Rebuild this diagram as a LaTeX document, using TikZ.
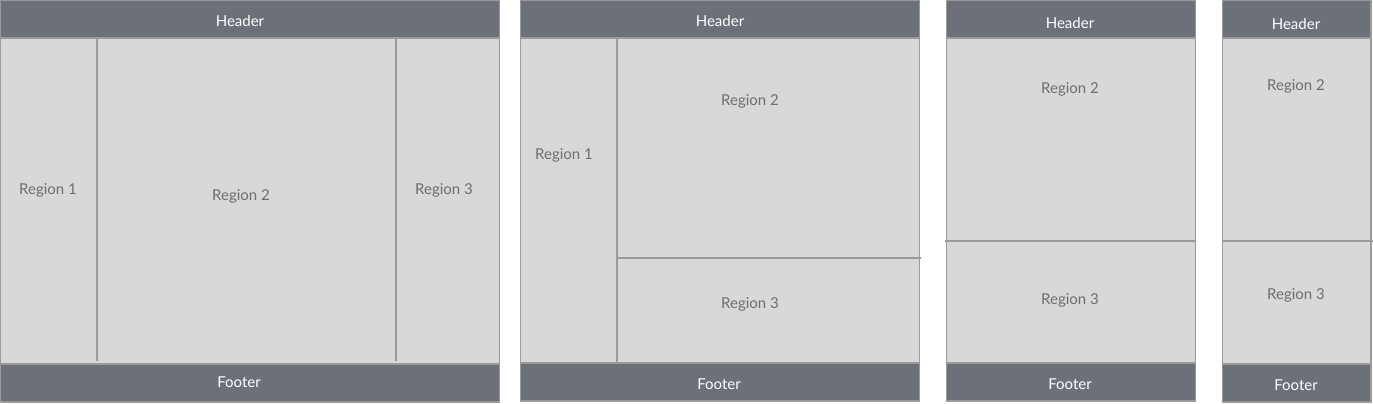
\documentclass[tikz,border=0pt]{standalone}
\usepackage{fontspec}
\setmainfont{Lato}
\usepackage{tikz}
\usetikzlibrary{positioning}
\definecolor{barfill}{HTML}{6C7078}
\definecolor{regfill}{HTML}{D8D8D8}
\definecolor{edgegray}{HTML}{9A9A9A}
\definecolor{regtext}{HTML}{6E6E6E}
\tikzset{
  bar/.style={fill=barfill,draw=edgegray,line width=1pt},
  sep/.style={draw=edgegray,line width=0.9pt},
  bartext/.style={text=white,font=\fontsize{11.25}{13}\selectfont,inner sep=0pt,yshift=-1pt},
  lbl/.style={text=regtext,font=\fontsize{11.25}{13}\selectfont,inner sep=0pt,yshift=-1pt}
}
% #1 name, #2 left, #3 right, #4 footer top, #5 bottom
\newcommand{\screen}[5]{%
  \fill[regfill] (#2,38) rectangle (#3,#4);
  \draw[bar] (#2,0.5) rectangle (#3,38);
  \draw[bar] (#2,#4) rectangle (#3,#5);
  \draw[edgegray,line width=1pt] (#2,0.5) rectangle (#3,#5);
  \coordinate (#1tl) at (#2,0.5);
  \coordinate (#1br) at (#3,#5);}

\begin{document}
\begin{tikzpicture}[x=0.75pt,y=-0.75pt]
\useasboundingbox (0,0) rectangle (1373,403);
% three columns
\screen{a}{0.5}{499.5}{364}{402}
\draw[sep] (97,38)--(97,361);
\draw[sep] (396,38)--(396,361);
\node[bartext] (ah) at (240,20) {Header};
\node[bartext] (af) at (239,381) {Footer};
\node[lbl] (a1) at (48,189) {Region 1};
\node[lbl] (a2) at (241,195) {Region 2};
\node[lbl] (a3) at (444,189) {Region 3};
% side column, stacked right
\screen{b}{520.5}{919.5}{363}{401}
\draw[sep] (617,38)--(617,362);
\draw[sep] (617,258)--(921,258);
\node[bartext] (bh) at (720,20) {Header};
\node[bartext] (bf) at (719,383) {Footer};
\node[lbl] (b1) at (564,154) {Region 1};
\node[lbl] (b2) at (750,100) {Region 2};
\node[lbl] (b3) at (750,303) {Region 3};
% stacked
\screen{c}{946.5}{1195.5}{363}{401}
\draw[sep] (945,241)--(1195.5,241);
\node[bartext] (ch) at (1070,22) {Header};
\node[bartext] (cf) at (1070,383) {Footer};
\node[lbl] (c2) at (1070,88) {Region 2};
\node[lbl] (c3) at (1070,299) {Region 3};
% narrow
\screen{d}{1222.5}{1371}{364}{402}
\draw[sep] (1222.5,241)--(1373,241);
\node[bartext] (dh) at (1296,23) {Header};
\node[bartext] (df) at (1296,384) {Footer};
\node[lbl] (d2) at (1296,85) {Region 2};
\node[lbl] (d3) at (1296,294) {Region 3};
\end{tikzpicture}
\end{document}
